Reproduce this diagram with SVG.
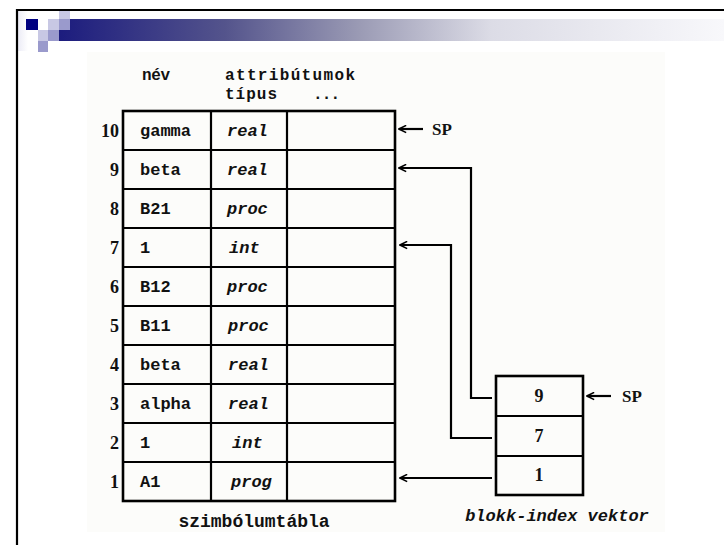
<svg xmlns="http://www.w3.org/2000/svg" width="724" height="545" viewBox="0 0 724 545">
<defs>
<linearGradient id="bar" x1="0" y1="0" x2="1" y2="0">
<stop offset="0" stop-color="#1c1c7e"/>
<stop offset="0.25" stop-color="#54548c"/>
<stop offset="0.45" stop-color="#9a9ab4"/>
<stop offset="0.65" stop-color="#dcdce6"/>
<stop offset="1" stop-color="#f8f8fb"/>
</linearGradient>
<linearGradient id="haze" x1="0" y1="0" x2="1" y2="0">
<stop offset="0" stop-color="#ececf6"/>
<stop offset="1" stop-color="#ffffff"/>
</linearGradient>
<marker id="ah" viewBox="0 0 10 10" refX="9" refY="5" markerWidth="9" markerHeight="9" markerUnits="userSpaceOnUse" orient="auto">
<path d="M1,1 L9,5 L1,9" fill="none" stroke="#000" stroke-width="1.8"/>
</marker>
<style>
.ln{stroke:#000;stroke-width:2.2;fill:none}
.bx{stroke:#000;stroke-width:2.6;fill:none}
.t{font-family:"Liberation Mono","DejaVu Sans Mono",monospace;font-weight:bold;font-size:17px;fill:#111}
.th{font-family:"Liberation Mono","DejaVu Sans Mono",monospace;font-weight:bold;font-size:16px;fill:#111}
.ti{font-family:"Liberation Mono","DejaVu Sans Mono",monospace;font-weight:bold;font-style:italic;font-size:17px;fill:#111}
.n{font-family:"Liberation Serif","DejaVu Serif",serif;font-weight:bold;font-size:18px;fill:#111}
.sp{font-family:"Liberation Serif","DejaVu Serif",serif;font-weight:bold;font-size:17px;fill:#111}
.cap{font-family:"Liberation Mono","DejaVu Sans Mono",monospace;font-weight:bold;font-size:18px;fill:#111}
.con{stroke:#000;stroke-width:2.2;fill:none;marker-end:url(#ah)}
</style>
</defs>
<rect width="724" height="545" fill="#ffffff"/>
<g id="slide-frame">
<rect x="87" y="52" width="578" height="480" fill="#fcfcfa"/>
<rect x="18" y="11" width="10" height="40" fill="url(#haze)"/>
<rect x="59" y="19" width="665" height="22" fill="url(#bar)"/>
<rect x="26" y="19" width="12" height="11" fill="#000080"/>
<rect x="48" y="19" width="11" height="11" fill="#c8c8e4"/>
<rect x="59" y="11" width="11" height="8" fill="#c8c8e4"/>
<rect x="59" y="19" width="11" height="11" fill="#9a9acc"/>
<rect x="38" y="30" width="10" height="11" fill="#c8c8e4"/>
<rect x="48" y="30" width="11" height="11" fill="#9a9acc"/>
<rect x="38" y="41" width="10" height="11" fill="#9a9acc"/>
<path d="M17,545 V10 H724" fill="none" stroke="#000" stroke-width="2.2"/>
</g>
<g id="header">
<text class="th" x="142" y="80" textLength="28" lengthAdjust="spacing">név</text>
<text class="th" x="225" y="80" textLength="130" lengthAdjust="spacing">attribútumok</text>
<text class="th" x="225" y="99" textLength="52" lengthAdjust="spacing">típus</text>
<text class="th" x="313" y="99" textLength="27" lengthAdjust="spacing">...</text>
</g>
<g id="symbol-table">
<rect class="bx" x="123" y="111" width="272" height="390"/>
<path class="ln" d="M211,111 V501 M287,111 V501 M123,150 H395 M123,189 H395 M123,228 H395 M123,267 H395 M123,306 H395 M123,345 H395 M123,384 H395 M123,423 H395 M123,462 H395"/>
<g id="row10"><text class="n" x="119" y="137" text-anchor="end">10</text><text class="t" x="140" y="136">gamma</text><text class="ti" x="227" y="136">real</text></g>
<g id="row9"><text class="n" x="119" y="176" text-anchor="end">9</text><text class="t" x="140" y="175">beta</text><text class="ti" x="227" y="175">real</text></g>
<g id="row8"><text class="n" x="119" y="215" text-anchor="end">8</text><text class="t" x="140" y="214">B21</text><text class="ti" x="227" y="214">proc</text></g>
<g id="row7"><text class="n" x="119" y="254" text-anchor="end">7</text><text class="t" x="140" y="253">1</text><text class="ti" x="229" y="253">int</text></g>
<g id="row6"><text class="n" x="119" y="293" text-anchor="end">6</text><text class="t" x="140" y="292">B12</text><text class="ti" x="227" y="292">proc</text></g>
<g id="row5"><text class="n" x="119" y="332" text-anchor="end">5</text><text class="t" x="140" y="331">B11</text><text class="ti" x="228" y="331">proc</text></g>
<g id="row4"><text class="n" x="119" y="371" text-anchor="end">4</text><text class="t" x="140" y="370">beta</text><text class="ti" x="228" y="370">real</text></g>
<g id="row3"><text class="n" x="119" y="410" text-anchor="end">3</text><text class="t" x="140" y="409">alpha</text><text class="ti" x="228" y="409">real</text></g>
<g id="row2"><text class="n" x="119" y="449" text-anchor="end">2</text><text class="t" x="140" y="448">1</text><text class="ti" x="232" y="448">int</text></g>
<g id="row1"><text class="n" x="119" y="488" text-anchor="end">1</text><text class="t" x="140" y="487">A1</text><text class="ti" x="231" y="487">prog</text></g>
<text class="cap" x="254" y="527" text-anchor="middle">szimbólumtábla</text>
</g>
<g id="sp-table">
<text class="sp" x="432" y="135">SP</text>
</g>
<g id="block-index-vector">
<rect class="bx" x="496" y="376" width="87" height="119"/>
<path class="ln" d="M496,416 H583 M496,456 H583"/>
<text class="n" x="539" y="402" text-anchor="middle">9</text>
<text class="n" x="539" y="442" text-anchor="middle">7</text>
<text class="n" x="539" y="481" text-anchor="middle">1</text>
<text class="ti" x="557" y="521" text-anchor="middle" font-size="18">blokk-index vektor</text>
</g>
<g id="sp-vector">
<text class="sp" x="622" y="402">SP</text>
</g>
<g id="connectors">
<path class="con" d="M423,129 H399"/>
<path class="con" d="M492,398 H471 V168 H399"/>
<path class="con" d="M492,438 H451 V245 H400"/>
<path class="con" d="M492,478 H400"/>
<path class="con" d="M611,396 H587"/>
</g>
</svg>
